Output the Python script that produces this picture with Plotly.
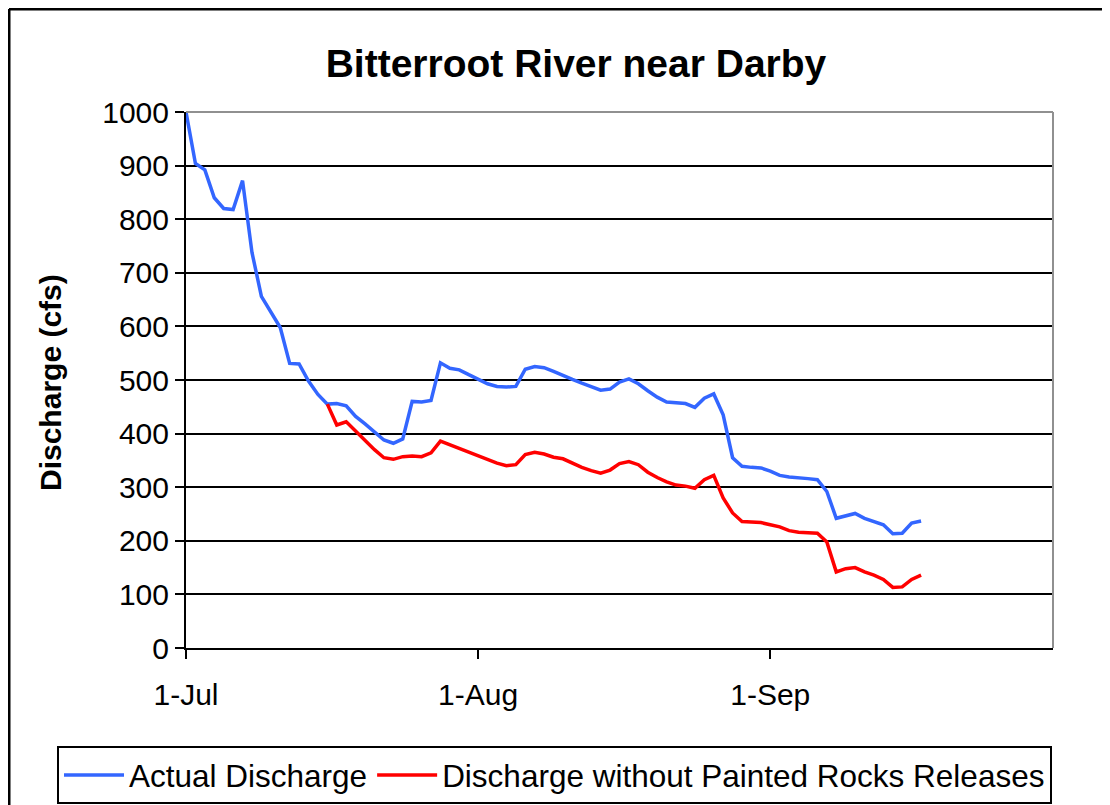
import pandas as pd
import plotly.graph_objects as go

# Daily discharge, starting 1-Jul
start_date = "2004-07-01"
actual_discharge = [
    1000, 904, 892, 840, 820, 818, 872, 738, 656, 628,
    598, 531, 530, 498, 473, 455, 456, 452, 432, 418,
    402, 388, 382, 390, 460, 459, 462, 532, 522, 519,
    510, 501, 493, 488, 487, 488, 520, 525, 523, 516,
    508, 501, 494, 488, 481, 483, 496, 502, 493, 480,
    468, 459, 458, 456, 449, 466, 474, 435, 355, 339,
    337, 336, 330, 322, 319, 318, 316, 314, 292, 242,
    247, 251, 242, 236, 230, 213, 214, 233, 237,
]
# Without Painted Rocks releases, begins 16-Jul
without_releases_start = "2004-07-16"
without_releases = [
    455, 416, 422, 404, 388, 370, 355, 352, 357, 358,
    357, 364, 386, 379, 372, 365, 358, 352, 345, 340,
    342, 361, 365, 362, 356, 353, 345, 337, 331, 326,
    332, 344, 348, 342, 328, 318, 310, 304, 302, 298,
    314, 322, 280, 252, 236, 235, 234, 230, 226, 219,
    216, 215, 214, 198, 142, 148, 150, 142, 136, 128,
    113, 114, 128, 136,
]
tick_dates = ["2004-07-01", "2004-08-01", "2004-09-01"]
tick_labels = ["1-Jul", "1-Aug", "1-Sep"]
x_range = ["2004-07-01", "2004-10-01"]

dates_actual = pd.date_range(start_date, periods=len(actual_discharge), freq="D")
dates_without = pd.date_range(without_releases_start, periods=len(without_releases), freq="D")

FONT = "Liberation Sans, Arial, sans-serif"

fig = go.Figure()
fig.add_trace(go.Scatter(x=dates_actual, y=actual_discharge, mode="lines",
                         name="Actual Discharge",
                         line=dict(color="#3366FF", width=3.5)))
fig.add_trace(go.Scatter(x=dates_without, y=without_releases, mode="lines",
                         name="Discharge without Painted Rocks Releases",
                         line=dict(color="#FF0000", width=3.5)))

# page has an 8px body margin; work in page pixels and shift
OFF = 8
W, H = 1110, 805
PL, PT, PR, PB = 186, 112, 1053, 648          # plot area in page pixels
L = PL - OFF
T = PT - OFF
R = W - (PR - OFF)
B = H - (PB - OFF)
pw = PR - PL
ph = PB - PT

def px(xp):
    return (xp - PL) / pw

def py(yp):
    return (PB - yp) / ph

fig.update_layout(
    width=W, height=H,
    margin=dict(l=L, r=R, t=T, b=B, autoexpand=False),
    paper_bgcolor="white", plot_bgcolor="white",
    font=dict(family=FONT, size=30, color="black"),
    title=dict(text="<b>Bitterroot River near Darby</b>",
               font=dict(family=FONT, size=39, color="black"),
               x=px(576), xref="paper", xanchor="center",
               y=1 - (63 - OFF) / H, yref="container", yanchor="middle"),
    showlegend=True,
    legend=dict(orientation="h", x=px(57), xanchor="left", y=py(746), yanchor="top",
                bordercolor="black", borderwidth=2, bgcolor="white",
                itemwidth=60,
                font=dict(family=FONT, size=31.5, color="black")),
    xaxis=dict(type="date", range=x_range, tickvals=tick_dates, ticktext=tick_labels,
               showgrid=False, showline=True, linecolor="black", linewidth=2,
               ticks="outside", ticklen=9, tickwidth=2, tickcolor="black",
               ticklabelstandoff=10, zeroline=False, automargin=False,
               tickfont=dict(family=FONT, size=30, color="black")),
    yaxis=dict(range=[0, 1000], dtick=100, tick0=0,
               showgrid=True, gridcolor="black", gridwidth=2,
               showline=True, linecolor="black", linewidth=2,
               ticks="outside", ticklen=9, tickwidth=2, tickcolor="black",
               zeroline=False, automargin=False,
               tickfont=dict(family=FONT, size=30, color="black")),
    annotations=[dict(text="<b>Discharge (cfs)</b>", textangle=-90,
                      xref="paper", yref="paper", x=px(50), y=py(383),
                      xanchor="center", yanchor="middle", showarrow=False,
                      font=dict(family=FONT, size=30, color="black"))],
    shapes=[
        # plot area top and right border (gray)
        dict(type="line", xref="paper", yref="paper", x0=0, x1=1, y0=1, y1=1,
             line=dict(color="#909090", width=2)),
        dict(type="line", xref="paper", yref="paper", x0=1, x1=1, y0=0, y1=1,
             line=dict(color="#909090", width=2)),
        # chart area border (left and top)
        dict(type="line", xref="paper", yref="paper", x0=px(9), x1=px(9),
             y0=py(9), y1=py(830), line=dict(color="black", width=3)),
        dict(type="line", xref="paper", yref="paper", x0=px(9), x1=px(1140),
             y0=py(9), y1=py(9), line=dict(color="black", width=3)),
    ],
)

fig.write_html("out.html")
